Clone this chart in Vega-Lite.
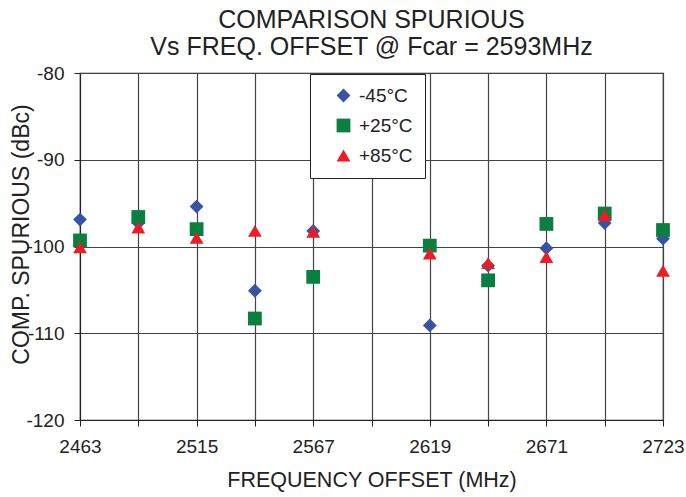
{
  "$schema": "https://vega.github.io/schema/vega-lite/v6.json",
  "width": 583,
  "height": 347,
  "autosize": "none",
  "padding": {"left": 80, "top": 73, "right": 23, "bottom": 77},
  "background": "white",
  "config": {
    "font": "Liberation Sans",
    "view": {"stroke": "#222", "strokeWidth": 1.2}
  },
  "title": {
    "text": ["COMPARISON SPURIOUS", "Vs FREQ. OFFSET @ Fcar = 2593MHz"],
    "fontSize": 25,
    "fontWeight": "normal",
    "color": "#222",
    "lineHeight": 27,
    "anchor": "middle",
    "frame": "group",
    "offset": 4
  },
  "data": {
    "values": [
      {"freq": 2463, "spur": -96.9, "temp": "-45°C"},
      {"freq": 2489, "spur": -97.3, "temp": "-45°C"},
      {"freq": 2515, "spur": -95.4, "temp": "-45°C"},
      {"freq": 2541, "spur": -105.1, "temp": "-45°C"},
      {"freq": 2567, "spur": -98.2, "temp": "-45°C"},
      {"freq": 2619, "spur": -109.1, "temp": "-45°C"},
      {"freq": 2645, "spur": -102.2, "temp": "-45°C"},
      {"freq": 2671, "spur": -100.2, "temp": "-45°C"},
      {"freq": 2697, "spur": -97.3, "temp": "-45°C"},
      {"freq": 2723, "spur": -99.1, "temp": "-45°C"},
      {"freq": 2463, "spur": -99.3, "temp": "+25°C"},
      {"freq": 2489, "spur": -96.6, "temp": "+25°C"},
      {"freq": 2515, "spur": -98.0, "temp": "+25°C"},
      {"freq": 2541, "spur": -108.3, "temp": "+25°C"},
      {"freq": 2567, "spur": -103.5, "temp": "+25°C"},
      {"freq": 2619, "spur": -99.9, "temp": "+25°C"},
      {"freq": 2645, "spur": -103.9, "temp": "+25°C"},
      {"freq": 2671, "spur": -97.4, "temp": "+25°C"},
      {"freq": 2697, "spur": -96.2, "temp": "+25°C"},
      {"freq": 2723, "spur": -98.1, "temp": "+25°C"},
      {"freq": 2463, "spur": -100.1, "temp": "+85°C"},
      {"freq": 2489, "spur": -97.8, "temp": "+85°C"},
      {"freq": 2515, "spur": -99.0, "temp": "+85°C"},
      {"freq": 2541, "spur": -98.2, "temp": "+85°C"},
      {"freq": 2567, "spur": -98.3, "temp": "+85°C"},
      {"freq": 2619, "spur": -100.8, "temp": "+85°C"},
      {"freq": 2645, "spur": -101.9, "temp": "+85°C"},
      {"freq": 2671, "spur": -101.2, "temp": "+85°C"},
      {"freq": 2697, "spur": -96.4, "temp": "+85°C"},
      {"freq": 2723, "spur": -102.8, "temp": "+85°C"}
    ]
  },
  "mark": {"type": "point", "filled": true, "opacity": 1, "size": 190},
  "encoding": {
    "x": {
      "field": "freq",
      "type": "quantitative",
      "scale": {"domain": [2463, 2723], "nice": false, "zero": false},
      "axis": {
        "title": "FREQUENCY OFFSET (MHz)",
        "values": [2463, 2489, 2515, 2541, 2567, 2593, 2619, 2645, 2671, 2697, 2723],
        "labelExpr": "(datum.value - 2463) % 52 == 0 ? toString(datum.value) : ''",
        "labelFlush": false,
        "labelOverlap": false,
        "labelFontSize": 19,
        "labelColor": "#222",
        "labelPadding": 11,
        "titleFontSize": 21.5,
        "titleFontWeight": "normal",
        "titleColor": "#222",
        "titlePadding": 13,
        "domainColor": "#222",
        "tickColor": "#222",
        "tickSize": 6,
        "gridColor": "#444",
        "gridOpacity": 1,
        "gridWidth": 1.2
      }
    },
    "y": {
      "field": "spur",
      "type": "quantitative",
      "scale": {"domain": [-120, -80], "nice": false, "zero": false},
      "axis": {
        "title": "COMP. SPURIOUS (dBc)",
        "values": [-120, -110, -100, -90, -80],
        "labelExpr": "toString(datum.value)",
        "labelFlush": false,
        "labelFontSize": 19,
        "labelColor": "#222",
        "labelPadding": 10,
        "titleFontSize": 23,
        "titleFontWeight": "normal",
        "titleColor": "#222",
        "titleX": -59,
        "titleY": 161,
        "titleBaseline": "middle",
        "titleAlign": "center",
        "titleAngle": 270,
        "domainColor": "#222",
        "tickColor": "#222",
        "tickSize": 6,
        "gridColor": "#444",
        "gridOpacity": 1,
        "gridWidth": 1.2
      }
    },
    "color": {
      "field": "temp",
      "type": "nominal",
      "scale": {"domain": ["-45°C", "+25°C", "+85°C"], "range": ["#3953a4", "#0a7f3f", "#ed1c24"]},
      "legend": {
        "title": null,
        "orient": "none",
        "legendX": 230,
        "legendY": 1,
        "fillColor": "white",
        "strokeColor": "#222",
        "padding": 12,
        "labelFontSize": 19,
        "labelColor": "#222",
        "labelExpr": "datum.label + '\u00a0\u00a0'",
        "symbolSize": 190,
        "symbolOffset": 12,
        "rowPadding": 10,
        "symbolOpacity": 1,
        "labelOffset": 6
      }
    },
    "shape": {
      "field": "temp",
      "type": "nominal",
      "scale": {"domain": ["-45°C", "+25°C", "+85°C"], "range": ["diamond", "square", "triangle-up"]},
      "legend": null
    }
  }
}
